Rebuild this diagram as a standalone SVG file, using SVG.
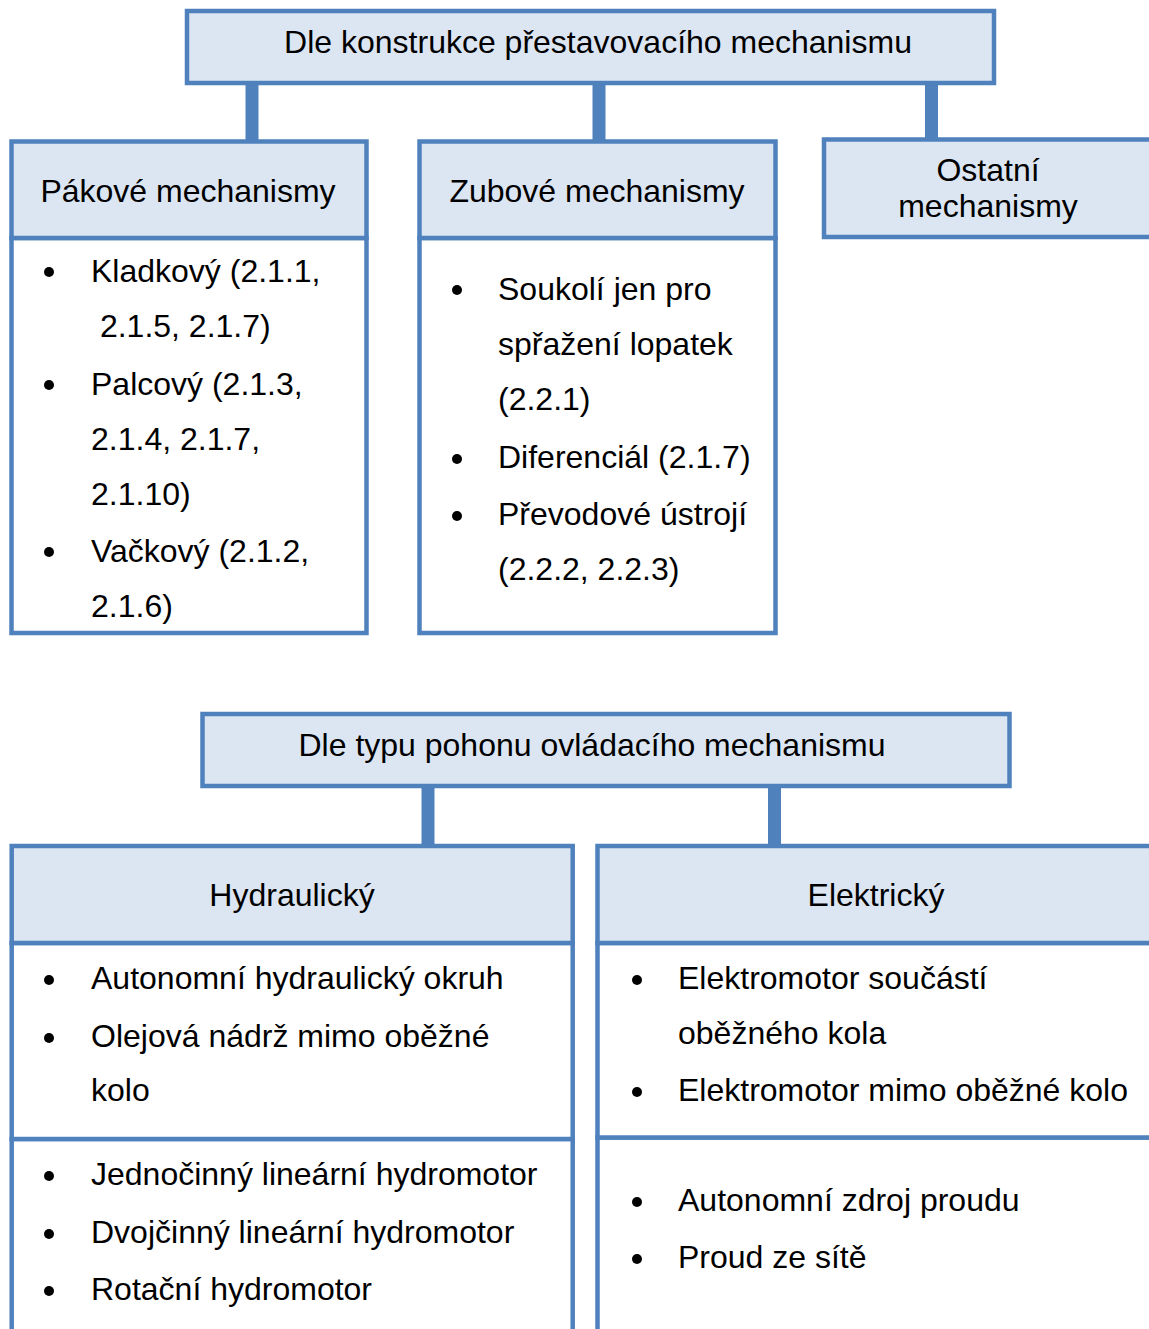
<svg xmlns="http://www.w3.org/2000/svg" width="1149" height="1329" viewBox="0 0 1149 1329">
<style>
.hd{fill:#dce6f2;stroke:#4f81bd;stroke-width:4.5}
.bd{fill:#ffffff;stroke:#4f81bd;stroke-width:4.5}
.cn{stroke:#4f81bd;stroke-width:13;fill:none}
text{font-family:"Liberation Sans",Arial,sans-serif;font-size:32px;fill:#000}
.c{text-anchor:middle}
.b{fill:#000}
</style>
<rect width="1149" height="1329" fill="#ffffff"/>
<g id="connectors">
<line class="cn" x1="252" y1="83" x2="252" y2="141"/>
<line class="cn" x1="599" y1="83" x2="599" y2="141"/>
<line class="cn" x1="931.5" y1="83" x2="931.5" y2="140"/>
<line class="cn" x1="428" y1="786" x2="428" y2="846"/>
<line class="cn" x1="774.5" y1="786" x2="774.5" y2="846"/>
</g>
<g id="top-header">
<rect class="hd" x="187" y="11" width="807" height="72"/>
<text class="c" x="598" y="53">Dle konstrukce přestavovacího mechanismu</text>
</g>
<g id="pakove">
<rect class="bd" x="11.5" y="238" width="355" height="395"/>
<rect class="hd" x="11.5" y="141.5" width="355" height="96.5"/>
<text class="c" x="188" y="202">Pákové mechanismy</text>
<circle class="b" cx="49" cy="272" r="5"/>
<text x="91" y="282">Kladkový (2.1.1,</text>
<text x="91" y="337" xml:space="preserve"> 2.1.5, 2.1.7)</text>
<circle class="b" cx="49" cy="385" r="5"/>
<text x="91" y="395">Palcový (2.1.3,</text>
<text x="91" y="450">2.1.4, 2.1.7,</text>
<text x="91" y="505">2.1.10)</text>
<circle class="b" cx="49" cy="552" r="5"/>
<text x="91" y="562">Vačkový (2.1.2,</text>
<text x="91" y="617">2.1.6)</text>
</g>
<g id="zubove">
<rect class="bd" x="419.5" y="238" width="356" height="395"/>
<rect class="hd" x="419.5" y="141.5" width="356" height="96.5"/>
<text class="c" x="597" y="202">Zubové mechanismy</text>
<circle class="b" cx="457" cy="290" r="5"/>
<text x="498" y="300">Soukolí jen pro</text>
<text x="498" y="355">spřažení lopatek</text>
<text x="498" y="410">(2.2.1)</text>
<circle class="b" cx="457" cy="459" r="5"/>
<text x="498" y="468">Diferenciál (2.1.7)</text>
<circle class="b" cx="457" cy="516" r="5"/>
<text x="498" y="525">Převodové ústrojí</text>
<text x="498" y="580">(2.2.2, 2.2.3)</text>
</g>
<g id="ostatni">
<rect class="hd" x="824" y="139.5" width="340" height="97.5"/>
<text class="c" x="988" y="181">Ostatní</text>
<text class="c" x="988" y="217">mechanismy</text>
</g>
<g id="bottom-header">
<rect class="hd" x="202.5" y="714" width="807" height="72"/>
<text class="c" x="592" y="756">Dle typu pohonu ovládacího mechanismu</text>
</g>
<g id="hydraulicky">
<rect class="bd" x="11.7" y="1139" width="561" height="220"/>
<rect class="bd" x="11.7" y="943" width="561" height="196"/>
<rect class="hd" x="11.7" y="846" width="561" height="97"/>
<text class="c" x="292" y="906">Hydraulický</text>
<circle class="b" cx="49" cy="980" r="5"/>
<text x="91" y="989">Autonomní hydraulický okruh</text>
<circle class="b" cx="49" cy="1038" r="5"/>
<text x="91" y="1047">Olejová nádrž mimo oběžné</text>
<text x="91" y="1101">kolo</text>
<circle class="b" cx="49" cy="1176" r="5"/>
<text x="91" y="1185">Jednočinný lineární hydromotor</text>
<circle class="b" cx="49" cy="1234" r="5"/>
<text x="91" y="1243">Dvojčinný lineární hydromotor</text>
<circle class="b" cx="49" cy="1291" r="5"/>
<text x="91" y="1300">Rotační hydromotor</text>
</g>
<g id="elektricky">
<rect class="bd" x="597.5" y="1137.5" width="570" height="222"/>
<rect class="bd" x="597.5" y="943" width="570" height="194.5"/>
<rect class="hd" x="597.5" y="846" width="570" height="97"/>
<text class="c" x="876" y="906">Elektrický</text>
<circle class="b" cx="637" cy="980" r="5"/>
<text x="678" y="989">Elektromotor součástí</text>
<text x="678" y="1044">oběžného kola</text>
<circle class="b" cx="637" cy="1092" r="5"/>
<text x="678" y="1101">Elektromotor mimo oběžné kolo</text>
<circle class="b" cx="637" cy="1202" r="5"/>
<text x="678" y="1211">Autonomní zdroj proudu</text>
<circle class="b" cx="637" cy="1259" r="5"/>
<text x="678" y="1268">Proud ze sítě</text>
</g>
</svg>
